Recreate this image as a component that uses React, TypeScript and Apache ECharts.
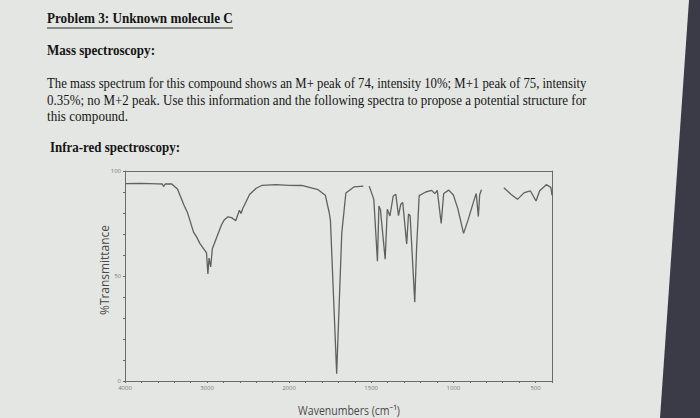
import React, { useEffect, useRef } from "react";
import * as echarts from "echarts";

// Wavenumber (cm-1) and %Transmittance
const WAVENUMBERS = [
  4000, 3800, 3600, 3545, 3530, 3510, 3430, 3360, 3279, 3240, 3164, 3125, 3086, 3027, 3006, 2989, 2975, 2955, 2935,
  2824, 2790, 2744, 2700, 2650, 2605, 2585, 2565, 2481, 2400, 2326, 2161, 2000, 1923, 1823, 1779, 1755, 1748, 1710,
  1679, 1654, 1605, 1565, 1548, 1530, 1512, 1484, 1462, 1453, 1444, 1415, 1402, 1386, 1366, 1350, 1334, 1320, 1308,
  1284, 1273, 1263, 1235, 1224, 1208, 1168, 1132, 1113, 1098, 1074, 1059, 1028, 1000, 973, 938, 911, 877, 861, 848,
  840, 829, 760, 693, 650, 610, 569, 531, 497, 475, 435, 407, 400,
];
const TRANSMITTANCE: (number | null)[] = [
  94.0, 94.1, 93.9, 93.8, 92.6, 93.8, 93.8, 91.4, 83.6, 80.4, 70.9, 68.5, 65.4, 62.2, 61.0, 51.0, 58.5, 54.3, 63.0,
  74.3, 76.7, 78.2, 77.8, 76.3, 81.3, 79.8, 82.0, 88.8, 91.8, 93.2, 93.5, 93.2, 93.1, 91.1, 88.5, 80.0, 76.5, 3.5,
  70.4, 89.5, 92.4, 92.7, 92.8, null, 92.8, 86.5, 57.0, 83.3, 81.7, 58.0, 81.8, 78.6, 88.1, 88.9, 78.7, 84.2, 85.0,
  65.2, 79.5, 78.7, 37.5, 62.9, 88.3, 90.0, 90.8, 89.2, 90.8, 75.0, 89.3, 90.9, 88.6, 82.1, 70.3, 76.6, 85.4, 89.3, 78.3,
  88.7, 91.1, null, 92.0, 88.9, 86.5, 89.7, 90.5, 85.7, 90.6, 93.5, 92.2, 88.5,
];
const X_TICKS_HIGH = [4000, 3000]; // labelled ticks on the 4000-2000 section
const X_TICKS_LOW = [2000, 1500, 1000, 500]; // labelled ticks on the 2000-400 section
const Y_TICKS = [0, 50, 100];

const TITLE = "Problem 3: Unknown molecule C";
const HEAD_MS = "Mass spectroscopy:";
const PARA = [
  "The mass spectrum for this compound shows an M+ peak of 74, intensity 10%; M+1 peak of 75, intensity",
  "0.35%; no M+2 peak. Use this information and the following spectra to propose a potential structure for",
  "this compound.",
];
const HEAD_IR = "Infra-red spectroscopy:";
const Y_NAME = "%Transmittance";
const X_NAME = "Wavenumbers (cm\u207B\u00B9)";

function measure(text: string, font: string): number {
  const c = document.createElement("canvas");
  const ctx = c.getContext("2d");
  if (!ctx) return text.length * 6;
  ctx.font = font;
  return ctx.measureText(text).width;
}

export default function App() {
  const ref = useRef<HTMLDivElement>(null);
  useEffect(() => {
    if (!ref.current) return;
    const chart = echarts.init(ref.current, undefined, { renderer: "svg" });
    const serif = '"Liberation Serif", "Times New Roman", serif';
    const sans = '"Open Sans", "Noto Sans", sans-serif';

    const fitText = (
      text: string,
      x: number,
      y: number,
      width: number,
      size: number,
      weight: string,
      family: string,
      fill: string
    ) => {
      const w = measure(text, `${weight} ${size}px ${family}`);
      return {
        type: "text",
        x,
        y,
        scaleX: width / w,
        style: {
          text,
          fontSize: size,
          fontWeight: weight,
          fontFamily: family,
          fill,
          align: "left",
          verticalAlign: "middle",
        },
      };
    };

    const high: any[] = [];
    const low: any[] = [];
    WAVENUMBERS.forEach((wn, i) => {
      const t = TRANSMITTANCE[i];
      const pt = [wn, t === null ? "-" : t];
      if (wn >= 2000) high.push(pt);
      if (wn <= 2000) low.push(pt);
    });

    const axisColor = "#6a6a6a";
    const labelStyle = { fontSize: 6, color: "#7a7a7a", fontFamily: sans, margin: 4 };
    const lineStyle = { color: "#606060", width: 1.3 };

    const option: any = {
      animation: false,
      backgroundColor: "#e4e6e3",
      grid: [
        { left: 125, top: 171, width: 164, height: 210 },
        { left: 289, top: 171, width: 263, height: 210 },
      ],
      xAxis: [
        {
          gridIndex: 0,
          type: "value",
          min: 2000,
          max: 4000,
          interval: 200,
          inverse: true,
          position: "bottom",
          axisLine: { show: true, onZero: false, lineStyle: { color: axisColor } },
          axisTick: { show: true, length: 2, lineStyle: { color: axisColor } },
          axisLabel: { ...labelStyle, formatter: (v: number) => (X_TICKS_HIGH.includes(v) ? String(v) : "") },
          splitLine: { show: false },
        },
        {
          gridIndex: 1,
          type: "value",
          min: 400,
          max: 2000,
          interval: 100,
          inverse: true,
          position: "bottom",
          axisLine: { show: true, onZero: false, lineStyle: { color: axisColor } },
          axisTick: { show: true, length: 2, lineStyle: { color: axisColor } },
          axisLabel: { ...labelStyle, formatter: (v: number) => (X_TICKS_LOW.includes(v) ? String(v) : "") },
          splitLine: { show: false },
        },
        {
          gridIndex: 0,
          type: "value",
          min: 2000,
          max: 4000,
          inverse: true,
          position: "top",
          axisLine: { show: true, onZero: false, lineStyle: { color: axisColor } },
          axisTick: { show: false },
          axisLabel: { show: false },
          splitLine: { show: false },
        },
        {
          gridIndex: 1,
          type: "value",
          min: 400,
          max: 2000,
          inverse: true,
          position: "top",
          axisLine: { show: true, onZero: false, lineStyle: { color: axisColor } },
          axisTick: { show: false },
          axisLabel: { show: false },
          splitLine: { show: false },
        },
      ],
      yAxis: [
        {
          gridIndex: 0,
          type: "value",
          min: 0,
          max: 100,
          interval: 10,
          position: "left",
          axisLine: { show: true, onZero: false, lineStyle: { color: axisColor } },
          axisTick: { show: true, length: 2, lineStyle: { color: axisColor } },
          axisLabel: { ...labelStyle, formatter: (v: number) => (Y_TICKS.includes(v) ? String(v) : "") },
          splitLine: { show: false },
        },
        {
          gridIndex: 1,
          type: "value",
          min: 0,
          max: 100,
          position: "right",
          axisLine: { show: true, onZero: false, lineStyle: { color: axisColor } },
          axisTick: { show: false },
          axisLabel: { show: false },
          splitLine: { show: false },
        },
      ],
      series: [
        {
          type: "line",
          xAxisIndex: 0,
          yAxisIndex: 0,
          data: high,
          showSymbol: false,
          connectNulls: false,
          lineStyle,
        },
        {
          type: "line",
          xAxisIndex: 1,
          yAxisIndex: 1,
          data: low,
          showSymbol: false,
          connectNulls: false,
          lineStyle,
        },
      ],
      graphic: [
        {
          type: "polygon",
          shape: { points: [[689, 0], [700, 0], [700, 418], [660, 418]] },
          style: { fill: "#3b3b47" },
        },
        fitText(TITLE, 47, 18, 186, 15, "bold", serif, "#141414"),
        {
          type: "line",
          shape: { x1: 47, y1: 28, x2: 233, y2: 28 },
          style: { stroke: "#2a2a2a", lineWidth: 1 },
        },
        fitText(HEAD_MS, 47, 50, 108, 15, "bold", serif, "#141414"),
        fitText(PARA[0], 47, 83, 540, 14, "normal", serif, "#151515"),
        fitText(PARA[1], 47, 100, 540, 14, "normal", serif, "#151515"),
        fitText(PARA[2], 47, 116, 81, 14, "normal", serif, "#151515"),
        fitText(HEAD_IR, 50, 147, 130, 15, "bold", serif, "#141414"),
        {
          type: "text",
          x: 104,
          y: 270,
          rotation: Math.PI / 2,
          scaleX: 90 / measure(Y_NAME, `normal 12px ${sans}`),
          style: {
            text: Y_NAME,
            fontSize: 12,
            fontFamily: sans,
            fill: "#4a4a4a",
            align: "center",
            verticalAlign: "middle",
          },
        },
        {
          type: "text",
          x: 349,
          y: 410,
          scaleX: 102 / measure(X_NAME, `normal 12px ${sans}`),
          style: {
            text: X_NAME,
            fontSize: 12,
            fontFamily: sans,
            fill: "#4a4a4a",
            align: "center",
            verticalAlign: "middle",
          },
        },
      ],
    };
    chart.setOption(option);
    return () => chart.dispose();
  }, []);

  return (
    <div
      ref={ref}
      style={{ position: "absolute", left: 0, top: 0, width: 700, height: 418 }}
    />
  );
}
